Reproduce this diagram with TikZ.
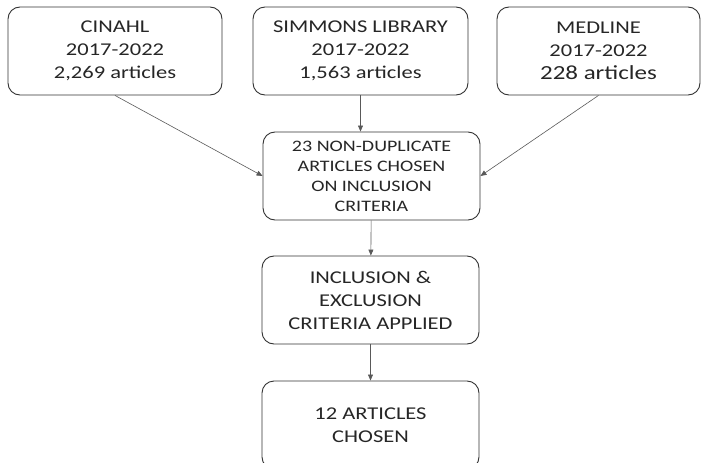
\documentclass[tikz,border=0pt]{standalone}
\usepackage{fontspec}
\setmainfont[FakeStretch=1.25]{Carlito}
\usetikzlibrary{arrows.meta}

\begin{document}
\begin{tikzpicture}[x=1pt,y=-1pt,
    box/.style={draw=black!80,line width=0.9pt,rounded corners=12pt,align=center,
      inner sep=0pt,minimum height=88pt,text=black!85},
    big/.style={font=\fontsize{18}{23}\selectfont},
    small/.style={font=\fontsize{16}{20}\selectfont},
    link/.style={draw=black!65,line width=0.6pt,-{Triangle[length=6pt,width=5pt]}}]
  \useasboundingbox (0,0) rectangle (705,463);
  \clip (0,0) rectangle (705,463);
  %% sources
  \node[box,big,minimum width=214pt] (cinahl) at (115,51) {CINAHL\\2017-2022\\2,269 articles};
  \node[box,big,minimum width=215pt] (simmons) at (360.5,51) {SIMMONS LIBRARY\\2017-2022\\1,563 articles};
  \node[box,big,minimum width=203pt] (medline) at (598.5,51) {MEDLINE\\2017-2022\\{\fontsize{20}{23}\selectfont 228 articles}};
  %% screening
  \node[box,small,minimum width=217pt] (dup) at (371.5,176) {23 NON-DUPLICATE\\ARTICLES CHOSEN\\ON INCLUSION\\CRITERIA};
  \node[box,big,minimum width=217pt] (incl) at (370.5,300) {INCLUSION \&\\EXCLUSION\\CRITERIA APPLIED};
  \node[box,big,minimum width=217pt] (final) at (370.5,425) {12 ARTICLES\\CHOSEN};
  %% connectors
  \draw[link] (cinahl.south) -- (dup.west);
  \draw[link] (medline.south) -- (dup.east);
  \draw[link] (simmons.south) -- (simmons.south |- dup.north);
  \draw[link] (dup) -- (incl);
  \draw[link] (incl) -- (final);
\end{tikzpicture}
\end{document}
